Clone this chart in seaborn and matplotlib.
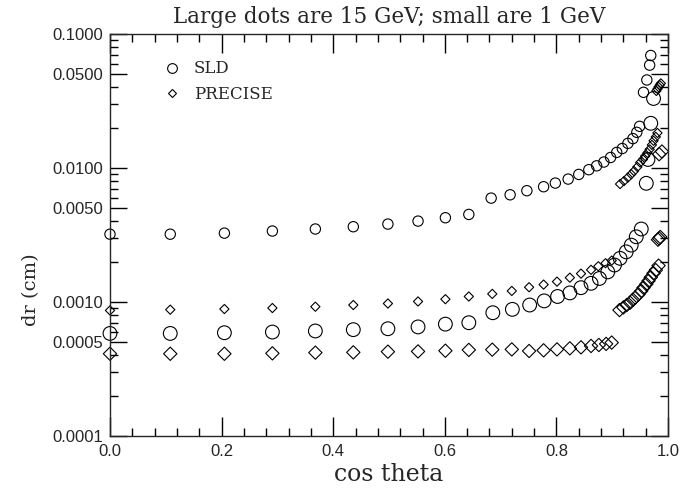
import matplotlib
matplotlib.use("Agg")
import matplotlib.pyplot as plt
import seaborn as sns
from matplotlib.lines import Line2D
from matplotlib.ticker import FixedLocator, LogLocator, FormatStrFormatter, MultipleLocator, NullFormatter

# SLD, 1 GeV (small circles)
sld_1_x = [0.0, 0.108, 0.205, 0.291, 0.368, 0.436, 0.498, 0.552, 0.601, 0.643,
           0.683, 0.717, 0.747, 0.777, 0.798, 0.821, 0.840, 0.858, 0.872, 0.885,
           0.897, 0.908, 0.918, 0.928, 0.937, 0.944, 0.949,
           0.956, 0.962, 0.967, 0.969]
sld_1_y = [0.00321, 0.00321, 0.00327, 0.00339, 0.00351, 0.00365, 0.00382, 0.00402, 0.00426, 0.00451,
           0.00597, 0.00632, 0.00678, 0.00726, 0.00773, 0.00828, 0.00897, 0.00973, 0.0104, 0.0111,
           0.0120, 0.0131, 0.0140, 0.0153, 0.0166, 0.0185, 0.0205,
           0.0368, 0.0455, 0.0587, 0.0693]

# SLD, 15 GeV (large circles)
sld_15_x = [0.0, 0.108, 0.205, 0.291, 0.368, 0.436, 0.498, 0.552, 0.601, 0.643,
            0.686, 0.721, 0.752, 0.778, 0.802, 0.824, 0.844, 0.862, 0.877, 0.892,
            0.904, 0.914, 0.925, 0.934, 0.943, 0.952,
            0.961, 0.964, 0.969, 0.974]
sld_15_y = [0.000583, 0.000583, 0.000590, 0.000597, 0.000608, 0.000622, 0.000632, 0.000652, 0.000684, 0.000701,
            0.000832, 0.000882, 0.000950, 0.00102, 0.00110, 0.00117, 0.00128, 0.00138, 0.00150, 0.00168,
            0.00189, 0.00212, 0.00237, 0.00266, 0.00307, 0.00351,
            0.0077, 0.0116, 0.0216, 0.0331]

# PRECISE, 1 GeV (small diamonds)
prec_1_x = [0.0, 0.108, 0.205, 0.291, 0.368, 0.436, 0.498, 0.552, 0.601, 0.643,
            0.685, 0.720, 0.751, 0.777, 0.801, 0.824, 0.844, 0.862, 0.875, 0.888, 0.899,
            0.914, 0.921, 0.928, 0.934, 0.939, 0.945, 0.950, 0.955, 0.959, 0.963,
            0.967, 0.971, 0.974, 0.978, 0.981,
            0.979, 0.981, 0.983, 0.985, 0.987]
prec_1_y = [0.000866, 0.000877, 0.000887, 0.000902, 0.000923, 0.000950, 0.000975, 0.00101, 0.00105, 0.00110,
            0.00115, 0.00121, 0.00129, 0.00135, 0.00142, 0.00152, 0.00163, 0.00174, 0.00185, 0.00195, 0.00204,
            0.0076, 0.0080, 0.0085, 0.0090, 0.0095, 0.0102, 0.0110, 0.0116, 0.0123, 0.0130,
            0.0138, 0.0149, 0.0160, 0.0171, 0.0183,
            0.0377, 0.0390, 0.0403, 0.0416, 0.0429]

# PRECISE, 15 GeV (large diamonds)
prec_15_x = [0.0, 0.108, 0.205, 0.291, 0.368, 0.436, 0.498, 0.552, 0.601, 0.643,
             0.685, 0.720, 0.751, 0.777, 0.801, 0.824, 0.844, 0.862, 0.876, 0.889, 0.899,
             0.913, 0.920, 0.926, 0.932, 0.937, 0.941, 0.947, 0.952, 0.956, 0.961,
             0.965, 0.969, 0.974, 0.978, 0.983,
             0.982, 0.984, 0.986,
             0.984, 0.989]
prec_15_y = [0.000411, 0.000411, 0.000411, 0.000414, 0.000419, 0.000421, 0.000426, 0.000428, 0.000433, 0.000439,
             0.000441, 0.000443, 0.000431, 0.000436, 0.000443, 0.000451, 0.000459, 0.000470, 0.000478, 0.000487, 0.000498,
             0.000871, 0.000912, 0.000950, 0.000988, 0.00104, 0.00108, 0.00114, 0.00121, 0.00128, 0.00136,
             0.00144, 0.00153, 0.00164, 0.00173, 0.00187,
             0.00292, 0.00299, 0.00306,
             0.0127, 0.0133]

y_major = [0.0001, 0.0005, 0.001, 0.005, 0.01, 0.05, 0.1]

sns.set_style("ticks")
plt.rcParams['font.family'] = ['DejaVu Serif']
plt.rcParams['axes.linewidth'] = 1.0

fig, ax = plt.subplots(figsize=(6.81, 4.88), dpi=100)
fig.subplots_adjust(left=0.1615, right=0.981, top=0.930, bottom=0.1066)

common = dict(facecolor="none", edgecolor="black", linewidth=0.8, clip_on=False, ax=ax, legend=False)
sns.scatterplot(x=sld_1_x, y=sld_1_y, marker="o", s=55, **common)
sns.scatterplot(x=sld_15_x, y=sld_15_y, marker="o", s=98, **common)
sns.scatterplot(x=prec_1_x, y=prec_1_y, marker="D", s=22, **common)
sns.scatterplot(x=prec_15_x, y=prec_15_y, marker="D", s=46, **common)

ax.set_yscale("log")
ax.set_xlim(0, 1)
ax.set_ylim(0.0001, 0.1)

ax.xaxis.set_major_locator(MultipleLocator(0.2))
ax.xaxis.set_minor_locator(MultipleLocator(0.04))
ax.xaxis.set_major_formatter(FormatStrFormatter("%.1f"))
ax.yaxis.set_major_locator(FixedLocator(y_major))
ax.yaxis.set_minor_locator(LogLocator(base=10, subs=(2, 3, 4, 6, 7, 8, 9)))
ax.yaxis.set_major_formatter(FormatStrFormatter("%.4f"))
ax.yaxis.set_minor_formatter(NullFormatter())

ax.tick_params(which="both", direction="in", top=True, right=True, width=1.0, color="black")
ax.tick_params(axis="x", which="major", length=14, labelsize=12, pad=6, labelfontfamily="Liberation Sans")
ax.tick_params(axis="x", which="minor", length=6)
ax.tick_params(axis="y", which="major", length=12, labelsize=12, pad=5, labelfontfamily="Liberation Sans")
ax.tick_params(axis="y", which="minor", length=6)

ax.set_title("Large dots are 15 GeV; small are 1 GeV", fontsize=15.5, pad=8)
ax.set_xlabel("cos theta", fontsize=17, labelpad=3)
ax.set_ylabel("dr (cm)", fontsize=14)
ax.yaxis.set_label_coords(-0.125, 0.363)

handles = [Line2D([], [], marker="o", ls="none", mfc="none", mec="black", mew=0.8, ms=7),
           Line2D([], [], marker="D", ls="none", mfc="none", mec="black", mew=0.8, ms=4.5)]
ax.legend(handles, ["SLD", "PRECISE"], loc="upper left", bbox_to_anchor=(0.07, 0.972),
          frameon=False, fontsize=12, handlelength=1.0, handletextpad=0.8, labelspacing=0.5)

plt.savefig("out.png", dpi=100)
